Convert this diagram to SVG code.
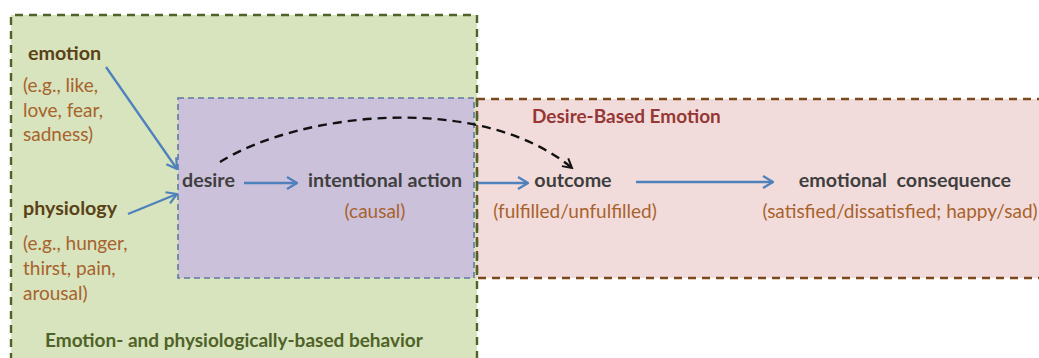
<svg xmlns="http://www.w3.org/2000/svg" width="1039" height="358" viewBox="0 0 1039 358">
<defs>
<style>
text{font-family:Lato,"Open Sans","Liberation Sans",sans-serif;font-size:19px}
.node{fill:#3f3f3f;font-weight:bold;font-size:19.7px}
.sub{fill:#a8622c}
.src{fill:#5a4116;font-weight:bold;font-size:19.7px}
.blue{stroke:#4f81bd;stroke-width:2.3;fill:none;marker-end:url(#ab)}
</style>
<marker id="ab" viewBox="0 0 12 14" refX="11" refY="7" markerWidth="12" markerHeight="14" markerUnits="userSpaceOnUse" orient="auto">
<path d="M1,1 L11,7 L1,13" fill="none" stroke="#4f81bd" stroke-width="2.2"/>
</marker>
<marker id="ak" viewBox="0 0 12 12" refX="10" refY="6" markerWidth="12" markerHeight="12" markerUnits="userSpaceOnUse" orient="auto">
<path d="M1,1 L10,6 L1,11" fill="none" stroke="#111" stroke-width="2"/>
</marker>
</defs>
<rect width="1039" height="358" fill="#ffffff"/>
<g id="behavior-region">
<rect x="11" y="15" width="466" height="360" fill="#d7e4bd"/>
</g>
<g id="desire-region">
<rect x="178" y="98" width="296" height="180" fill="#ccc1da" stroke="#60799f" stroke-width="1.6" stroke-dasharray="6 4"/>
</g>
<g id="desire-based-emotion">
<rect x="477" y="99" width="580" height="179" fill="#f2dcdb" stroke="#7a4a1e" stroke-width="2.4" stroke-dasharray="8 6"/>
<text x="532" y="123" font-weight="bold" fill="#953735" font-size="18.7">Desire-Based Emotion</text>
</g>
<g id="behavior-border">
<path d="M11,375 V15 H477 V375" fill="none" stroke="#4f6228" stroke-width="2.4" stroke-dasharray="8 6"/>
<text x="45" y="347" font-weight="bold" fill="#4f6228" font-size="19.6">Emotion- and physiologically-based behavior</text>
</g>
<g id="emotion">
<text x="28" y="60" class="src">emotion</text>
<text x="23" y="92" class="sub">(e.g., like,</text>
<text x="23" y="117" class="sub">love, fear,</text>
<text x="23" y="141" class="sub">sadness)</text>
</g>
<g id="physiology">
<text x="23" y="215" class="src">physiology</text>
<text x="23" y="250" class="sub">(e.g., hunger,</text>
<text x="23" y="275" class="sub">thirst, pain,</text>
<text x="23" y="300" class="sub">arousal)</text>
</g>
<g id="desire">
<text x="182" y="187" class="node">desire</text>
</g>
<g id="intentional-action">
<text x="308" y="187" class="node">intentional action</text>
<text x="375" y="218" class="sub" text-anchor="middle">(causal)</text>
</g>
<g id="outcome">
<text x="573" y="187" class="node" text-anchor="middle">outcome</text>
<text x="575" y="218" class="sub" text-anchor="middle">(fulfilled/unfulfilled)</text>
</g>
<g id="emotional-consequence">
<text x="905" y="187" class="node" text-anchor="middle" xml:space="preserve">emotional  consequence</text>
<text x="900" y="218" class="sub" text-anchor="middle" font-size="18.5">(satisfied/dissatisfied; happy/sad)</text>
</g>
<g id="connectors">
<path class="blue" d="M106,67 L177,169"/>
<path class="blue" d="M128,214 L177,194"/>
<path class="blue" d="M244,183 L297,183"/>
<path class="blue" d="M478,183 L528,183"/>
<path class="blue" d="M636,182 L773,182"/>
<path d="M220,162 C300,112 480,92 572,168" fill="none" stroke="#111" stroke-width="2.4" stroke-dasharray="9 6" marker-end="url(#ak)"/>
</g>
</svg>
